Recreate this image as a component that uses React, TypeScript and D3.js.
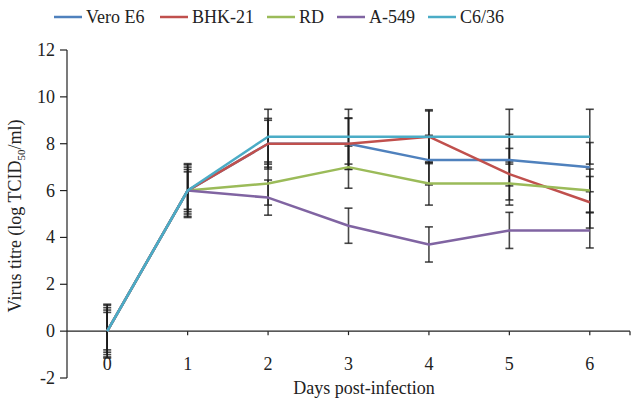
import React from "react";
import * as d3 from "d3";

const DAYS = [0, 1, 2, 3, 4, 5, 6];
const SERIES = ["Vero E6", "BHK-21", "RD", "A-549", "C6/36"];
const COLORS = ["#4F81BD", "#C0504D", "#9BBB59", "#8064A2", "#4BACC6"];

const VERO_E6 = [0, 6, 8, 8, 7.3, 7.3, 7.0];
const BHK_21 = [0, 6, 8, 8, 8.3, 6.7, 5.5];
const RD = [0, 6, 6.3, 7.0, 6.3, 6.3, 6.0];
const A_549 = [0, 6, 5.7, 4.5, 3.7, 4.3, 4.3];
const C6_36 = [0, 6, 8.3, 8.3, 8.3, 8.3, 8.3];

const VERO_E6_ERR = [1.0, 1.0, 1.0, 1.1, 1.06, 1.1, 1.05];
const BHK_21_ERR = [1.1, 1.1, 1.08, 1.08, 1.1, 1.1, 1.1];
const RD_ERR = [0.9, 0.9, 0.92, 0.9, 0.92, 0.92, 0.92];
const A_549_ERR = [0.8, 0.8, 0.75, 0.75, 0.75, 0.77, 0.75];
const C6_36_ERR = [1.15, 1.15, 1.17, 1.17, 1.15, 1.17, 1.17];

const Y_TICKS = [-2, 0, 2, 4, 6, 8, 10, 12];

const VALUES = [VERO_E6, BHK_21, RD, A_549, C6_36];
const ERRORS = [VERO_E6_ERR, BHK_21_ERR, RD_ERR, A_549_ERR, C6_36_ERR];

const W = 631;
const H = 400;
const FONT = "Liberation Serif, Times New Roman, Times, serif";
const FS = 18;

const App = () => {
  const left = 67;
  const right = 630;
  const top = 50;
  const bottom = 378;

  const x = d3.scaleLinear().domain([-0.5, 6.5]).range([left, right]);
  const y = d3.scaleLinear().domain([-2, 12]).range([bottom, top]);
  const y0 = y(0);

  const line = d3
    .line<number>()
    .x((_, i) => x(DAYS[i]))
    .y((d) => y(d));

  // legend layout (line start x for each item)
  const legendX = [54, 160, 267, 337, 428];
  const legendY = 17;

  return (
    <svg
      width={W}
      height={H}
      style={{ position: "absolute", left: 0, top: 0, background: "#fff", fontFamily: FONT }}
    >
      {/* legend */}
      {SERIES.map((s, i) => (
        <g key={s} transform={`translate(${legendX[i]},${legendY})`}>
          <line x1={0} x2={28} y1={0} y2={0} stroke={COLORS[i]} strokeWidth={2.5} />
          <text x={32} y={6} fontSize={FS} fill="#222">
            {s}
          </text>
        </g>
      ))}

      {/* y axis */}
      <line x1={left} x2={left} y1={top} y2={bottom} stroke="#222" strokeWidth={1.2} />
      {Y_TICKS.map((t) => (
        <g key={t}>
          <line x1={left - 7} x2={left} y1={y(t)} y2={y(t)} stroke="#222" strokeWidth={1.2} />
          <text x={left - 12} y={y(t) + 6} textAnchor="end" fontSize={FS} fill="#222">
            {t}
          </text>
        </g>
      ))}
      <text
        transform={`translate(21,${(top + bottom) / 2 + 2}) rotate(-90)`}
        textAnchor="middle"
        fontSize={FS}
        fill="#222"
      >
        Virus titre (log TCID
        <tspan fontSize={11} dy={4}>
          50
        </tspan>
        <tspan dy={-4}>/ml)</tspan>
      </text>

      {/* x axis */}
      <line x1={left} x2={right} y1={y0} y2={y0} stroke="#222" strokeWidth={1.2} />
      {[...DAYS.map((d) => x(d)), right].map((px, i) => (
        <line key={i} x1={px} x2={px} y1={y0} y2={y0 + 4} stroke="#222" strokeWidth={1.2} />
      ))}
      {DAYS.map((d) => (
        <text key={d} x={x(d)} y={370} textAnchor="middle" fontSize={FS} fill="#222">
          {d}
        </text>
      ))}
      <text x={364} y={394} textAnchor="middle" fontSize={FS} fill="#222">
        Days post-infection
      </text>

      {/* error bars */}
      {VALUES.map((vals, si) => (
        <g key={si} stroke="#1a1a1a" strokeWidth={1.6} strokeOpacity={0.8}>
          {vals.map((v, i) => {
            const e = ERRORS[si][i];
            const px = x(DAYS[i]);
            return (
              <g key={i}>
                <line x1={px} x2={px} y1={y(v - e)} y2={y(v + e)} />
                <line x1={px - 4} x2={px + 4} y1={y(v + e)} y2={y(v + e)} />
                <line x1={px - 4} x2={px + 4} y1={y(v - e)} y2={y(v - e)} />
              </g>
            );
          })}
        </g>
      ))}

      {/* lines */}
      {VALUES.map((vals, si) => (
        <path
          key={si}
          d={line(vals) || ""}
          fill="none"
          stroke={COLORS[si]}
          strokeWidth={2.5}
          strokeLinejoin="round"
        />
      ))}
    </svg>
  );
};

export default App;
